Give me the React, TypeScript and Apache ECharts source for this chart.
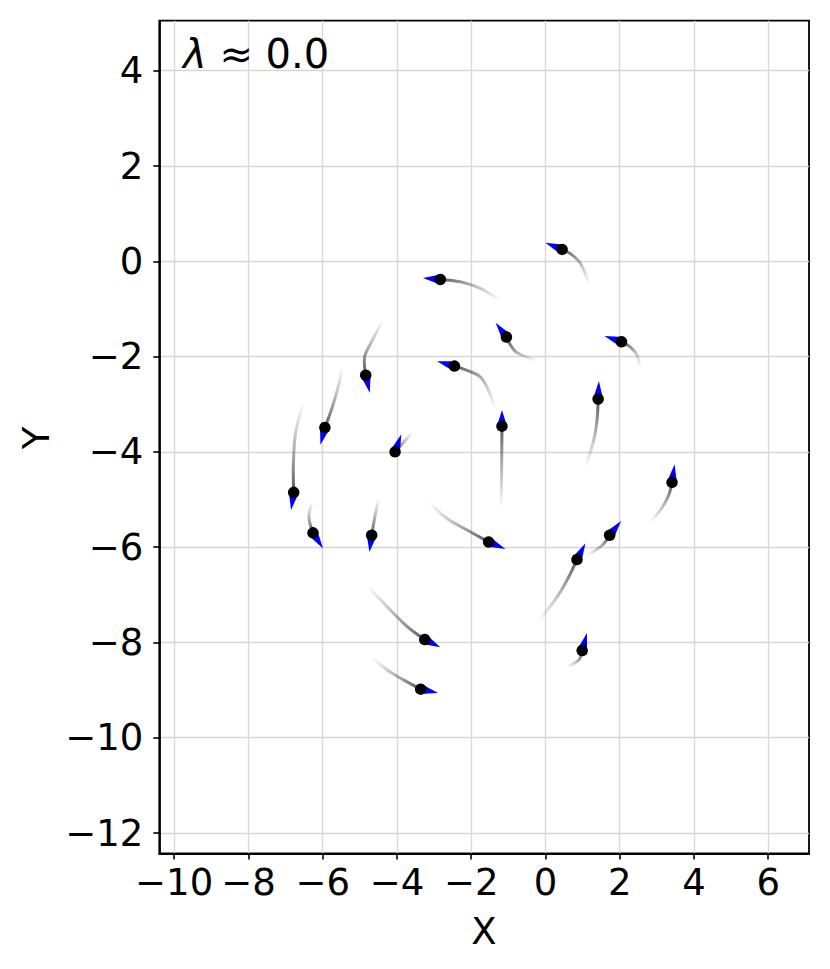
import React, { useEffect, useRef } from 'react';
import * as echarts from 'echarts';

// Particle head positions (data units)
const posX = [0.45, -2.83, -1.05, -2.45, -4.84, -5.94, -6.78, -6.26, -4.68, -4.05, -1.17, -1.53, 1.42, 2.05, 3.41, 1.73, 0.85, 0.99, -3.25, -3.36];
const posY = [0.25, -0.38, -1.59, -2.20, -2.39, -3.49, -4.85, -5.70, -5.75, -4.00, -3.46, -5.89, -2.89, -1.69, -4.64, -5.75, -6.26, -8.17, -7.94, -8.98];
// Velocity arrows (data units)
const velU = [-0.45, -0.47, -0.29, -0.47, 0.11, -0.12, -0.07, 0.27, -0.06, 0.17, 0.0, 0.45, 0.02, -0.46, 0.07, 0.31, 0.23, 0.13, 0.42, 0.47];
const velV = [0.14, 0.03, 0.30, 0.10, -0.37, -0.36, -0.37, -0.33, -0.35, 0.37, 0.34, -0.15, 0.38, 0.12, 0.38, 0.30, 0.34, 0.37, -0.16, -0.08];
// Trails from tail towards head (head itself appended when drawing)
const trailX = [
  [1.17, 0.94, 0.67],
  [-1.21, -1.75, -2.29],
  [-0.22, -0.76, -0.94],
  [-1.35, -1.53, -1.75, -2.11],
  [-4.37, -4.71, -4.87],
  [-5.47, -5.56, -5.74],
  [-6.51, -6.73, -6.79],
  [-6.28, -6.37],
  [-4.49, -4.59],
  [-3.59, -3.82],
  [-1.19, -1.18],
  [-3.14, -2.65, -2.11],
  [1.08, 1.30, 1.39],
  [2.54, 2.47, 2.29],
  [2.81, 3.10, 3.32],
  [1.12, 1.53],
  [-0.18, 0.32, 0.63],
  [0.58, 0.90],
  [-4.80, -4.26, -3.72],
  [-4.68, -4.26, -3.81],
];
const trailY = [
  [-0.47, -0.04, 0.16],
  [-0.83, -0.57, -0.43],
  [-2.08, -1.92, -1.76],
  [-3.09, -2.71, -2.43, -2.29],
  [-1.22, -1.73, -2.01],
  [-2.22, -2.57, -3.06],
  [-2.95, -3.61, -4.32],
  [-5.05, -5.36],
  [-4.97, -5.35],
  [-3.60, -3.80],
  [-5.17, -4.38],
  [-5.05, -5.40, -5.64],
  [-4.32, -3.76, -3.34],
  [-2.22, -1.97, -1.80],
  [-5.47, -5.22, -4.91],
  [-6.17, -5.96],
  [-7.55, -7.04, -6.62],
  [-8.51, -8.37],
  [-6.81, -7.25, -7.67],
  [-8.31, -8.58, -8.79],
];
const xTicks = [-10, -8, -6, -4, -2, 0, 2, 4, 6];
const yTicks = [-12, -10, -8, -6, -4, -2, 0, 2, 4];
const xName = 'X';
const yName = 'Y';
const lambdaValue = '0.0';

const FONT = 'DejaVu Sans';
const fmt = (v: number) => (v < 0 ? '\u2212' + Math.abs(v) : String(v));

export default function App() {
  const ref = useRef<HTMLDivElement>(null);
  useEffect(() => {
    if (!ref.current) return;
    const chart = echarts.init(ref.current, null, { renderer: 'svg' });
    const points = posX.map((x, i) => [x, posY[i], i]);
    const arrows = posX.map((x, i) => [x, posY[i], velU[i], velV[i]]);
    const option: any = {
      animation: false,
      backgroundColor: '#fff',
      grid: {
        left: 159.3,
        right: 21,
        top: 20.7,
        bottom: 115.5,
        show: true,
        borderColor: '#000',
        borderWidth: 1.8,
        containLabel: false,
      },
      xAxis: {
        type: 'value',
        min: -10.4,
        max: 7.1,
        axisLine: { show: true, onZero: false, lineStyle: { color: '#000', width: 1.8 } },
        axisTick: { show: true, inside: false, length: 6, lineStyle: { color: '#000', width: 1.6 }, customValues: xTicks },
        axisLabel: { customValues: xTicks, formatter: fmt, fontFamily: FONT, fontSize: 37, color: '#000', margin: 10 },
        splitLine: { show: true, lineStyle: { color: '#d6d6d6', width: 1.3 } },
      },
      yAxis: {
        type: 'value',
        min: -12.43,
        max: 5.05,
        axisLine: { show: true, onZero: false, lineStyle: { color: '#000', width: 1.8 } },
        axisTick: { show: true, inside: false, length: 6, lineStyle: { color: '#000', width: 1.6 }, customValues: yTicks },
        axisLabel: { customValues: yTicks, formatter: fmt, fontFamily: FONT, fontSize: 37, color: '#000', margin: 16 },
        splitLine: { show: true, lineStyle: { color: '#d6d6d6', width: 1.3 } },
      },
      graphic: [
        {
          type: 'text',
          x: 484,
          y: 931,
          style: { text: xName, font: `37px "${FONT}"`, fill: '#000', align: 'center', verticalAlign: 'middle', textAlign: 'center', textVerticalAlign: 'middle' },
        },
        {
          type: 'text',
          x: 36,
          y: 438,
          rotation: Math.PI / 2,
          style: { text: yName, font: `37px "${FONT}"`, fill: '#000', align: 'center', verticalAlign: 'middle', textAlign: 'center', textVerticalAlign: 'middle' },
        },
        {
          type: 'text',
          x: 183,
          y: 54,
          z: 100,
          style: {
            text: '{l|λ} ≈ ' + lambdaValue,
            font: `40px "${FONT}"`,
            fill: '#000',
            align: 'left',
            verticalAlign: 'middle',
            textAlign: 'left',
            textVerticalAlign: 'middle',
            rich: { l: { fontStyle: 'italic', fontFamily: FONT, fontSize: 40, fill: '#000' } },
          },
        },
      ],
      series: [
        {
          type: 'custom',
          z: 2,
          clip: true,
          data: points,
          encode: { x: 0, y: 1 },
          renderItem: (params: any, api: any) => {
            const i = api.value(2);
            const xs = trailX[i];
            const ys = trailY[i];
            const pts = xs.map((x, k) => api.coord([x, ys[k]]));
            pts.push(api.coord([api.value(0), api.value(1)]));
            const a = pts[0];
            const b = pts[pts.length - 1];
            return {
              type: 'polyline',
              shape: { points: pts, smooth: 0.35 },
              style: {
                fill: 'none',
                stroke: new echarts.graphic.LinearGradient(a[0], a[1], b[0], b[1], [
                  { offset: 0, color: 'rgba(90,90,90,0)' },
                  { offset: 0.5, color: 'rgba(90,90,90,0.45)' },
                  { offset: 1, color: 'rgba(70,70,70,0.9)' },
                ], true),
                lineWidth: 3,
                lineCap: 'butt',
              },
            };
          },
        },
        {
          type: 'custom',
          z: 3,
          data: arrows,
          encode: { x: 0, y: 1 },
          renderItem: (params: any, api: any) => {
            const x = api.value(0);
            const y = api.value(1);
            const p = api.coord([x, y]);
            const t = api.coord([x + api.value(2), y + api.value(3)]);
            const dx = t[0] - p[0];
            const dy = t[1] - p[1];
            const len = Math.hypot(dx, dy) || 1;
            const nx = -dy / len;
            const ny = dx / len;
            const hw = 5;
            return {
              type: 'polygon',
              shape: { points: [[p[0] + nx * hw, p[1] + ny * hw], [t[0], t[1]], [p[0] - nx * hw, p[1] - ny * hw]] },
              style: { fill: '#0000ff', stroke: 'none' },
            };
          },
        },
        {
          type: 'scatter',
          z: 4,
          data: points.map((p) => [p[0], p[1]]),
          symbol: 'circle',
          symbolSize: 11.5,
          itemStyle: { color: '#000', opacity: 1 },
        },
      ],
    };
    chart.setOption(option);
    return () => chart.dispose();
  }, []);
  return <div ref={ref} style={{ position: 'absolute', left: 0, top: 0, width: 830, height: 969 }} />;
}
